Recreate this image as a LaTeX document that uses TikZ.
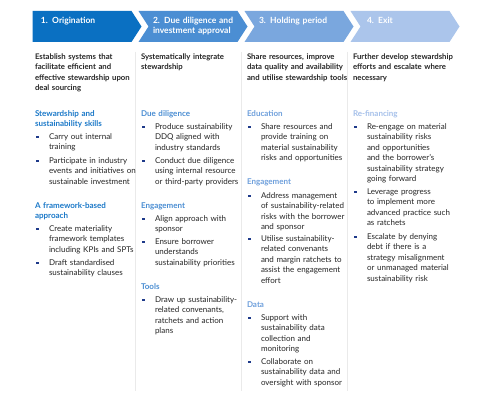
\documentclass[tikz,border=0pt]{standalone}
\usepackage{fontspec}
\setmainfont{Lato}
\definecolor{arA}{HTML}{0A70C2}
\definecolor{arB}{HTML}{4B8ED3}
\definecolor{arC}{HTML}{7AA7DE}
\definecolor{arD}{HTML}{ABC5EB}
\definecolor{hdA}{HTML}{1A78C8}
\definecolor{hdB}{HTML}{4B8ED3}
\definecolor{hdC}{HTML}{6FA0DC}
\definecolor{hdD}{HTML}{A5C0EA}
\definecolor{txt}{HTML}{262626}
\definecolor{bulc}{HTML}{1E3A8A}
\definecolor{sepc}{HTML}{EAEAEA}
\tikzset{
  x=1pt, y=-1pt,
  base txt/.style={inner sep=0pt, outer sep=0pt, anchor=base west, text width=125pt, align=left},
  bodytxt/.style={base txt, text=txt, font=\fontsize{8}{10.4}\selectfont},
  introtxt/.style={base txt, text=txt, font=\fontsize{7.75}{10.4}\selectfont\bfseries},
  headtxt/.style={base txt, font=\fontsize{8}{10.4}\selectfont\bfseries},
  arrowtxt/.style={base txt, text=white, font=\fontsize{8.5}{10.4}\selectfont\bfseries},
  seprule/.style={draw=sepc, line width=0.7pt},
}
\newcommand\bul[4]{%
  \fill[bulc] ({#2+1.2},{#3-1.3}) rectangle ++(2.6,2.6);
  \node[bodytxt] (#1) at ({#2+14},{#3+2.5}) {#4};}
\newcommand\hd[5]{\node[headtxt, text=#5] (#1) at (#2,{#3+2.5}) {#4};}
\newcommand\intro[4]{\node[introtxt] (#1) at (#2,{#3+2.5}) {#4};}
\begin{document}
\begin{tikzpicture}
\useasboundingbox[fill=white] (0,0) rectangle (480,401);
% chevrons
\fill[arA] (32.5,11) -- (131.5,11) -- (141.5,26.5) -- (131.5,42) -- (32.5,42) -- cycle;
\fill[arB] (138.5,11) -- (237.5,11) -- (247.5,26.5) -- (237.5,42) -- (138.5,42) -- (148.5,26.5) -- cycle;
\fill[arC] (244.5,11) -- (343.5,11) -- (353.5,26.5) -- (343.5,42) -- (244.5,42) -- (254.5,26.5) -- cycle;
\fill[arD] (350.5,11) -- (449.5,11) -- (459.5,26.5) -- (449.5,42) -- (350.5,42) -- (360.5,26.5) -- cycle;
\node[arrowtxt] (a1) at (41,23.5) {1. Origination};
\node[arrowtxt] (a2) at (153,23.5) {2. Due diligence and\\investment approval};
\node[arrowtxt] (a3) at (259,23.5) {3. Holding period};
\node[arrowtxt] (a4) at (367,23.5) {4. Exit};
% separators
\draw[seprule] (135,52) -- (135,391);
\draw[seprule] (241,52) -- (241,391);
\draw[seprule] (347,52) -- (347,391);
% column 1
\intro{i1}{35}{57}{Establish systems that\\facilitate efficient and\\effective stewardship upon\\deal sourcing}
\hd{h11}{35}{114}{Stewardship and\\sustainability skills}{hdA}
\bul{b111}{35}{137}{Carry out internal\\training}
\bul{b112}{35}{161}{Participate in industry\\events and initiatives on\\sustainable investment}
\hd{h12}{35}{206}{A framework-based\\approach}{hdA}
\bul{b121}{35}{229}{Create materiality\\framework templates\\including KPIs and SPTs}
\bul{b122}{35}{263}{Draft standardised\\sustainability clauses}
% column 2
\intro{i2}{141}{57}{Systematically integrate\\stewardship}
\hd{h21}{141}{114}{Due diligence}{hdB}
\bul{b211}{141}{127}{Produce sustainability\\DDQ aligned with\\industry standards}
\bul{b212}{141}{161}{Conduct due diligence\\using internal resource\\or third-party providers}
\hd{h22}{141}{206}{Engagement}{hdB}
\bul{b221}{141}{219}{Align approach with\\sponsor}
\bul{b222}{141}{242}{Ensure borrower\\understands\\sustainability priorities}
\hd{h23}{141}{287}{Tools}{hdB}
\bul{b231}{141}{300}{Draw up sustainability-\\related convenants,\\ratchets and action\\plans}
% column 3
\intro{i3}{247}{57}{Share resources, improve\\data quality and availability\\and utilise stewardship tools}
\hd{h31}{247}{114}{Education}{hdC}
\bul{b311}{247}{127}{Share resources and\\provide training on\\material sustainability\\risks and opportunities}
\hd{h32}{247}{182}{Engagement}{hdC}
\bul{b321}{247}{196}{Address management\\of sustainability-related\\risks with the borrower\\and sponsor}
\bul{b322}{247}{239}{Utilise sustainability-\\related convenants\\and margin ratchets to\\assist the engagement\\effort}
\hd{h33}{247}{305}{Data}{hdC}
\bul{b331}{247}{318}{Support with\\sustainability data\\collection and\\monitoring}
\bul{b332}{247}{362}{Collaborate on\\sustainability data and\\oversight with sponsor}
% column 4
\intro{i4}{353}{57}{Further develop stewardship\\efforts and escalate where\\necessary}
\hd{h41}{353}{114}{Re-financing}{hdD}
\bul{b411}{353}{127}{Re-engage on material\\sustainability risks\\and opportunities\\and the borrower's\\sustainability strategy\\going forward}
\bul{b412}{353}{192}{Leverage progress\\to implement more\\advanced practice such\\as ratchets}
\bul{b413}{353}{237}{Escalate by denying\\debt if there is a\\strategy misalignment\\or unmanaged material\\sustainability risk}
\end{tikzpicture}
\end{document}
